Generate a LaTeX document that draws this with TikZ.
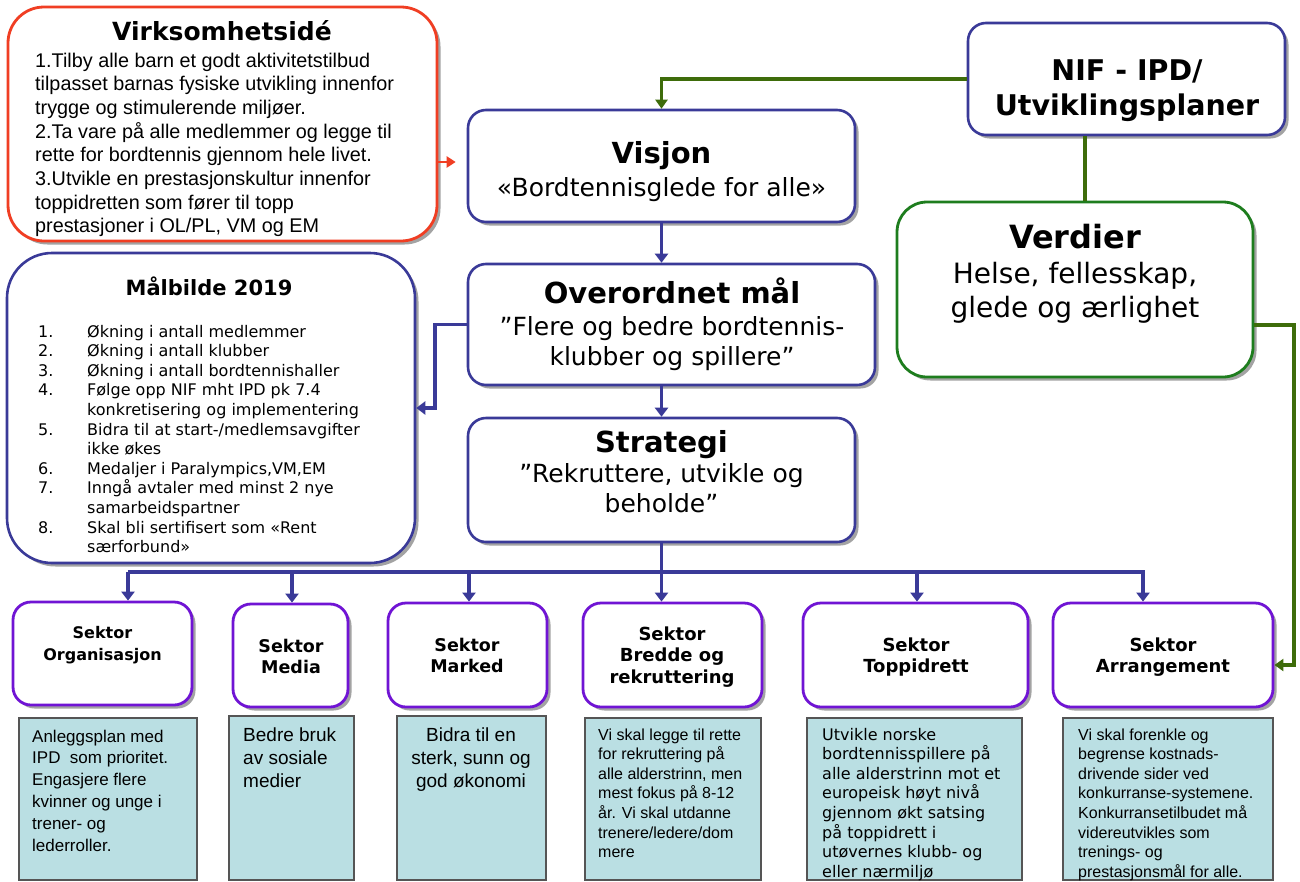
\documentclass[tikz,border=0pt]{standalone}
\usepackage{fontspec}
\usetikzlibrary{arrows.meta,shadows}
\newfontfamily\vs{DejaVu Sans}
\newfontfamily\ar{Liberation Sans}
\definecolor{redc}{RGB}{240,62,35}
\definecolor{navy}{RGB}{58,58,152}
\definecolor{gline}{RGB}{62,108,10}
\definecolor{gbox}{RGB}{30,125,30}
\definecolor{purp}{RGB}{112,20,212}
\definecolor{tealf}{RGB}{186,223,227}
\definecolor{descb}{RGB}{85,85,85}
\tikzset{
  shad/.style={drop shadow={shadow xshift=3.5pt,shadow yshift=-3.5pt,fill=black!45,opacity=0.8}},
  mainbox/.style={draw=navy,line width=2.6pt,fill=white,rounded corners=18pt,shad,inner sep=0},
  redbox/.style={draw=redc,line width=2.8pt,fill=white,rounded corners=36pt,shad,inner sep=0},
  grbox/.style={draw=gbox,line width=2.8pt,fill=white,rounded corners=30pt,shad,inner sep=0},
  secbox/.style={draw=purp,line width=2.8pt,fill=white,rounded corners=18pt,shad,inner sep=0},
  descbox/.style={draw=descb,line width=1.2pt,fill=tealf,inner sep=0},
  navyarr/.style={draw=navy,line width=3.6pt,-{Triangle[width=13pt,length=9pt]}},
  navyline/.style={draw=navy,line width=3.6pt},
  grarr/.style={draw=gline,line width=3.2pt,-{Triangle[width=12pt,length=9pt]}},
  grline/.style={draw=gline,line width=3.2pt},
  txt/.style={inner sep=0,text=black},
}
\newcommand\ctr[2]{\parbox[t]{#1}{\centering #2}}
\newcommand\lft[2]{\parbox[t]{#1}{\raggedright #2}}
\begin{document}
\begin{tikzpicture}[x=1pt,y=-1pt]
\useasboundingbox[fill=white] (0,0) rectangle (1300,881);

% ---------- boxes ----------
\node[redbox,minimum width=429pt,minimum height=234pt] (virk) at (222.5,124) {};
\node[mainbox,minimum width=387pt,minimum height=112pt] (visjon) at (661.5,166) {};
\node[mainbox,minimum width=407pt,minimum height=121pt] (over) at (671.5,324.5) {};
\node[mainbox,minimum width=387pt,minimum height=124pt] (strat) at (661.5,480) {};
\node[mainbox,minimum width=317pt,minimum height=112pt] (nif) at (1126.5,79) {};
\node[grbox,minimum width=356pt,minimum height=175pt] (verd) at (1075,289.5) {};
\node[mainbox,rounded corners=45pt,minimum width=408pt,minimum height=310pt] (malb) at (211,408) {};

\node[secbox,minimum width=179pt,minimum height=103pt] (org) at (102.5,653.5) {};
\node[secbox,minimum width=115pt,minimum height=103pt] (media) at (290.5,655.5) {};
\node[secbox,minimum width=159pt,minimum height=104pt] (marked) at (467.5,655) {};
\node[secbox,minimum width=179pt,minimum height=104pt] (bredde) at (672.5,655) {};
\node[secbox,minimum width=225pt,minimum height=104pt] (topp) at (915.5,655) {};
\node[secbox,minimum width=220pt,minimum height=104pt] (arr) at (1163,655) {};

\node[descbox,minimum width=178pt,minimum height=162pt] (dorg) at (108,799) {};
\node[descbox,minimum width=125pt,minimum height=164pt] (dmedia) at (291.5,798) {};
\node[descbox,minimum width=149pt,minimum height=164pt] (dmarked) at (471.5,798) {};
\node[descbox,minimum width=176pt,minimum height=162pt] (dbredde) at (673,799) {};
\node[descbox,minimum width=215pt,minimum height=162pt] (dtopp) at (914.5,799) {};
\node[descbox,minimum width=210pt,minimum height=162pt] (darr) at (1168,799) {};

% ---------- connectors ----------
\draw[draw=redc,line width=2.8pt,-{Triangle[width=11pt,length=9pt]}] (virk.east |- 0,162) -- ([xshift=-11pt]visjon.west |- 0,162);
\draw[grarr] (nif.west) -| (visjon.north);
\draw[grline] (nif.south -| 1085,0) -- (verd.north -| 1085,0);
\draw[grarr] (verd.east |- 0,325) -- (1294,325) |- (arr.east |- 0,665);
\draw[navyarr] (visjon.south) -- (over.north -| visjon.south);
\draw[navyarr] (over.south -| strat.north) -- (strat.north);
\draw[navyarr] (over.west) -- (435,324.5) |- (malb.east |- 0,408);
\draw[navyline] (strat.south) -- (661.5,572);
\draw[navyline] (128,572) -- (1143,572);
\draw[navyarr] (128,572) -- (org.north -| 128,0);
\draw[navyarr] (292,572) -- (media.north -| 292,0);
\draw[navyarr] (469,572) -- (marked.north -| 469,0);
\draw[navyarr] (661.5,570) -- (bredde.north -| 661.5,0);
\draw[navyarr] (917,572) -- (topp.north -| 917,0);
\draw[navyarr] (1143,570) -- (arr.north -| 1143,0);

% ---------- texts ----------
\node[txt,anchor=base,font=\vs\bfseries\fontsize{25}{28}\selectfont] (tvirk) at (222,40) {Virksomhetsidé};
\node[txt,anchor=base west] (bvirk) at (35,67) {\lft{400pt}{\ar\fontsize{19.8}{23.7}\selectfont
1.Tilby alle barn et godt aktivitetstilbud\\
tilpasset barnas fysiske utvikling innenfor\\
trygge og stimulerende miljøer.\\
2.Ta vare på alle medlemmer og legge til\\
rette for bordtennis gjennom hele livet.\\
3.Utvikle en prestasjonskultur innenfor\\
toppidretten som fører til topp\\
prestasjoner i OL/PL, VM og EM}};

\node[txt,anchor=base,font=\vs\bfseries\fontsize{29}{32}\selectfont] (tvis) at (661.5,163) {Visjon};
\node[txt,anchor=base,font=\vs\fontsize{25}{30}\selectfont] (svis) at (661.5,196) {«Bordtennisglede for alle»};

\node[txt,anchor=base,font=\vs\bfseries\fontsize{29}{32}\selectfont] (tover) at (672,303) {Overordnet mål};
\node[txt,anchor=base] (sover) at (672,335) {\ctr{400pt}{\vs\fontsize{25}{30}\selectfont ”Flere og bedre bordtennis-\\klubber og spillere”}};

\node[txt,anchor=base,font=\vs\bfseries\fontsize{29}{32}\selectfont] (tstrat) at (661.5,452) {Strategi};
\node[txt,anchor=base] (sstrat) at (661.5,482) {\ctr{380pt}{\vs\fontsize{25}{30}\selectfont ”Rekruttere, utvikle og\\beholde”}};

\node[txt,anchor=base] (tnif) at (1127,80) {\ctr{310pt}{\vs\bfseries\fontsize{28.5}{35}\selectfont NIF - IPD/\\Utviklingsplaner}};

\node[txt,anchor=base,font=\vs\bfseries\fontsize{32}{35}\selectfont] (tverd) at (1075,248) {Verdier};
\node[txt,anchor=base] (sverd) at (1075,283) {\ctr{340pt}{\vs\fontsize{28}{34}\selectfont Helse, fellesskap,\\glede og ærlighet}};

\node[txt,anchor=base,font=\vs\bfseries\fontsize{21}{24}\selectfont] (tmalb) at (209,295) {Målbilde 2019};
\node[txt,anchor=base west] (lmalb) at (38,337) {\lft{370pt}{\vs\fontsize{16}{19.6}\selectfont
\makebox[49pt][l]{1.}Økning i antall medlemmer\\
\makebox[49pt][l]{2.}Økning i antall klubber\\
\makebox[49pt][l]{3.}Økning i antall bordtennishaller\\
\makebox[49pt][l]{4.}Følge opp NIF mht IPD pk 7.4\\
\hspace*{49pt}konkretisering og implementering\\
\makebox[49pt][l]{5.}Bidra til at start-/medlemsavgifter\\
\hspace*{49pt}ikke økes\\
\makebox[49pt][l]{6.}Medaljer i Paralympics,VM,EM\\
\makebox[49pt][l]{7.}Inngå avtaler med minst 2 nye\\
\hspace*{49pt}samarbeidspartner\\
\makebox[49pt][l]{8.}Skal bli sertifisert som «Rent\\
\hspace*{49pt}særforbund»}};

% sector titles
\node[txt,anchor=base] (torg) at (102.5,638) {\ctr{175pt}{\vs\bfseries\fontsize{16}{22}\selectfont Sektor\\Organisasjon}};
\node[txt,anchor=base] (tmedia) at (291,652) {\ctr{110pt}{\vs\bfseries\fontsize{17.5}{21}\selectfont Sektor\\Media}};
\node[txt,anchor=base] (tmarked) at (467,651) {\ctr{150pt}{\vs\bfseries\fontsize{17.5}{21}\selectfont Sektor\\Marked}};
\node[txt,anchor=base] (tbredde) at (672,640) {\ctr{175pt}{\vs\bfseries\fontsize{18}{21.5}\selectfont Sektor\\Bredde og\\rekruttering}};
\node[txt,anchor=base] (ttopp) at (916,651) {\ctr{220pt}{\vs\bfseries\fontsize{18}{21}\selectfont Sektor\\Toppidrett}};
\node[txt,anchor=base] (tarr) at (1163,651) {\ctr{215pt}{\vs\bfseries\fontsize{18}{21}\selectfont Sektor\\Arrangement}};

% descriptions
\node[txt,anchor=base west] (xorg) at (32,742) {\lft{165pt}{\ar\fontsize{17}{21.8}\selectfont
Anleggsplan med\\IPD\ \ som prioritet.\\Engasjere flere\\kvinner og unge i\\trener- og\\lederroller.}};
\node[txt,anchor=base west] (xmedia) at (243,741) {\lft{110pt}{\ar\fontsize{19}{23}\selectfont
Bedre bruk\\av sosiale\\medier}};
\node[txt,anchor=base] (xmarked) at (471,741) {\ctr{145pt}{\ar\fontsize{19}{23}\selectfont
Bidra til en\\sterk, sunn og\\god økonomi}};
\node[txt,anchor=base west] (xbredde) at (598,740) {\lft{160pt}{\ar\fontsize{16}{19.6}\selectfont
Vi skal legge til rette\\for rekruttering på\\alle alderstrinn, men\\mest fokus på 8-12\\år. Vi skal utdanne\\trenere/ledere/dom\\mere}};
\node[txt,anchor=base west] (xtopp) at (822,740) {\lft{200pt}{\vs\fontsize{16}{19.6}\selectfont
Utvikle norske\\bordtennisspillere på\\alle alderstrinn mot et\\europeisk høyt nivå\\gjennom økt satsing\\på toppidrett i\\utøvernes klubb- og\\eller nærmiljø}};
\node[txt,anchor=base west] (xarr) at (1078,740) {\lft{195pt}{\ar\fontsize{16}{19.6}\selectfont
Vi skal forenkle og\\begrense kostnads-\\drivende sider ved\\konkurranse-systemene.\\Konkurransetilbudet må\\videreutvikles som\\trenings- og\\prestasjonsmål for alle.}};
\end{tikzpicture}
\end{document}
